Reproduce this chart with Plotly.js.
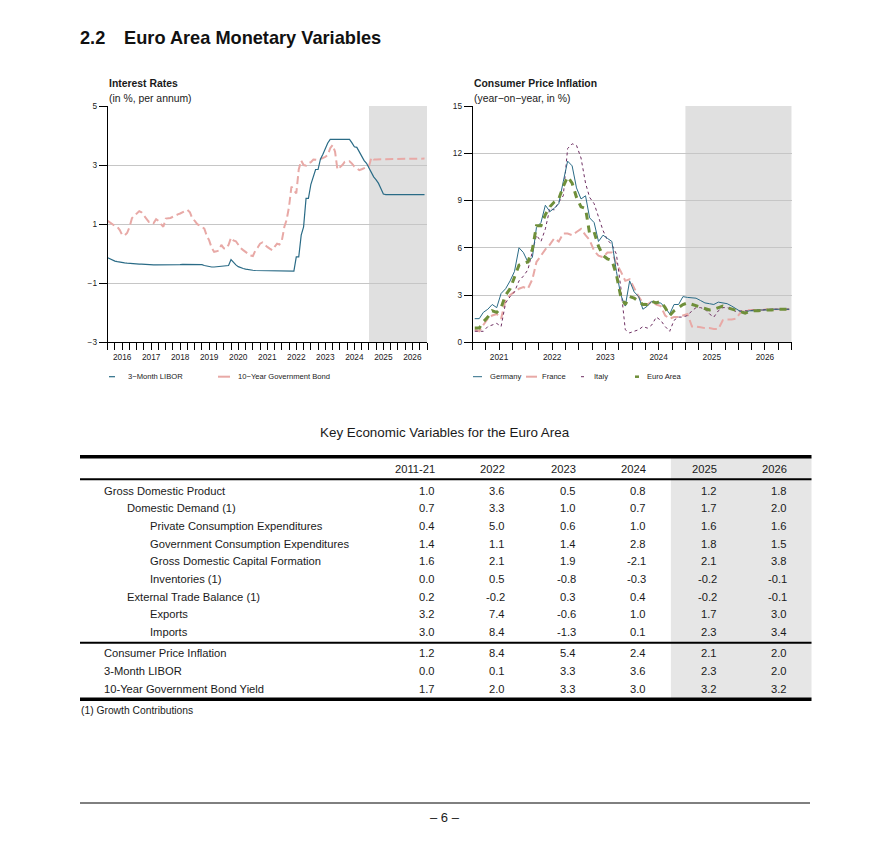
<!DOCTYPE html>
<html><head><meta charset="utf-8">
<script src="https://cdn.plot.ly/plotly-3.0.1.min.js"></script>
<style>html,body{margin:0;padding:0;background:#fff}#chart{width:888px;height:858px}</style>
</head><body><div id="chart"></div>
<script>
// ---------- Interest rates (monthly, Jan 2016 - Dec 2026) ----------
const rateStartYear = 2016;
const liborValues = [
 -0.14,-0.18,-0.22,-0.25,-0.27,-0.29,-0.30,-0.31,-0.32,-0.33,-0.33,-0.34,
 -0.34,-0.35,-0.35,-0.36,-0.37,-0.37,-0.38,-0.38,-0.38,-0.38,-0.38,-0.38,
 -0.39,-0.39,-0.39,-0.39,-0.38,-0.37,-0.37,-0.36,-0.36,-0.36,-0.35,-0.35,
 -0.35,-0.35,-0.36,-0.37,-0.40,-0.42,-0.44,-0.45,-0.45,-0.44,-0.44,-0.43,
 -0.43,-0.42,-0.40,-0.20,-0.30,-0.38,-0.44,-0.48,-0.50,-0.52,-0.54,-0.55,
 -0.56,-0.57,-0.57,-0.57,-0.58,-0.58,-0.58,-0.58,-0.59,-0.59,-0.59,-0.59,
 -0.59,-0.59,-0.59,-0.59,-0.59,-0.59,-0.11,-0.11,0.63,0.91,1.87,1.87,
 2.35,2.60,2.85,2.85,3.20,3.37,3.55,3.75,3.87,3.87,3.87,3.87,
 3.87,3.87,3.87,3.87,3.87,3.75,3.62,3.60,3.45,3.28,3.15,3.06,
 2.90,2.75,2.60,2.50,2.38,2.20,2.02,2.00,2.00,2.00,2.00,2.00,
 2.00,2.00,2.00,2.00,2.00,2.00,2.00,2.00,2.00,2.00,2.00,2.00
];
const bondValues = [
 1.11,1.05,0.97,0.94,0.91,0.80,0.63,0.62,0.70,0.90,1.20,1.30,
 1.36,1.44,1.40,1.28,1.18,1.08,1.10,1.04,1.17,1.11,1.00,0.91,
 1.19,1.19,1.21,1.25,1.30,1.33,1.36,1.40,1.42,1.48,1.40,1.19,
 1.11,1.00,0.96,0.90,0.85,0.60,0.45,0.20,0.06,0.08,0.11,0.30,
 0.18,0.17,0.30,0.54,0.45,0.42,0.30,0.19,0.12,0.06,0.00,-0.06,
 -0.08,0.11,0.20,0.34,0.38,0.29,0.23,0.17,0.12,0.23,0.34,0.31,
 0.45,0.91,1.14,1.59,2.27,2.15,2.04,2.85,3.15,3.00,2.98,3.06,
 3.10,3.19,3.17,3.17,3.20,3.23,3.28,3.34,3.57,3.68,3.45,2.85,
 2.92,3.00,3.11,3.12,3.13,3.05,2.95,2.89,2.83,2.86,2.89,2.94,
 2.97,3.26,3.19,3.19,3.20,3.20,3.20,3.20,3.20,3.20,3.21,3.21,
 3.21,3.21,3.21,3.21,3.22,3.22,3.22,3.22,3.22,3.22,3.22,3.22
];
const rateYears = ['2016','2017','2018','2019','2020','2021','2022','2023','2024','2025','2026'];
const rateTicks = [-3,-1,1,3,5];

// ---------- Consumer price inflation (monthly, Jan 2021 - Dec 2026) ----------
const cpiStartYear = 2021;
const germany = [
 1.5,1.5,1.9,2.1,2.4,2.2,3.1,3.4,3.9,4.5,6.0,5.7,
 5.1,5.4,7.3,7.6,8.7,8.3,8.5,8.8,10.2,11.5,11.2,9.8,
 9.1,9.3,7.9,7.6,6.4,6.8,6.6,6.4,4.5,3.0,2.3,3.9,
 3.2,2.9,2.1,2.3,2.6,2.5,2.5,2.2,1.8,2.4,2.4,2.9,
 2.85,2.8,2.8,2.65,2.5,2.45,2.4,2.55,2.5,2.45,2.3,2.1,
 1.95,1.9,2.0,2.0,2.05,2.05,2.05,2.1,2.1,2.1,2.1,2.1
];
const france = [
 0.8,0.7,1.1,1.5,1.7,1.8,1.5,2.7,3.0,3.2,3.4,3.5,
 3.4,4.0,5.1,5.5,5.9,6.2,6.6,6.4,6.9,6.9,6.8,7.0,
 7.2,6.8,6.5,5.8,5.5,5.4,5.7,5.7,5.0,4.5,3.9,4.0,
 3.4,2.9,2.5,2.4,2.6,2.4,2.3,1.7,1.5,1.6,1.6,1.7,
 1.8,1.0,1.0,0.95,0.9,0.9,0.85,0.85,1.4,1.45,1.45,1.5,
 1.9,2.0,2.05,2.05,2.05,2.05,2.1,2.1,2.1,2.1,2.1,2.1
];
const italy = [
 0.7,0.7,0.7,1.0,1.1,1.2,1.0,2.5,2.9,3.2,3.9,4.2,
 4.6,5.7,6.8,6.4,7.2,8.5,8.4,8.9,9.3,12.3,12.6,12.5,
 11.7,10.1,9.2,8.8,8.0,7.1,6.5,6.2,5.6,3.5,0.8,0.6,
 0.7,0.8,1.0,0.9,1.1,1.6,1.4,1.0,0.7,1.4,1.6,1.6,
 1.7,2.0,2.2,2.2,2.1,1.8,1.6,2.0,2.2,2.2,2.1,1.95,
 2.0,2.0,2.0,2.05,2.05,2.05,2.1,2.1,2.1,2.1,2.1,2.1
];
const euroArea = [
 0.9,0.9,1.3,1.6,2.0,1.9,2.2,3.0,3.4,4.1,4.9,5.0,
 5.1,5.9,7.4,7.4,8.1,8.6,8.9,9.1,9.9,10.5,10.1,9.2,
 8.6,8.5,6.9,7.0,6.1,5.5,5.3,5.2,4.3,2.9,2.4,2.9,
 2.8,2.6,2.4,2.4,2.6,2.5,2.6,2.2,1.7,2.0,2.2,2.4,
 2.5,2.4,2.3,2.2,2.1,2.05,2.1,2.2,2.3,2.2,2.1,2.0,
 1.9,1.85,1.95,2.0,2.0,2.05,2.05,2.05,2.1,2.1,2.1,2.1
];
const cpiYears = ['2021','2022','2023','2024','2025','2026'];
const cpiTicks = [0,3,6,9,12,15];
const forecastStart = '2025-01-01';

// ---------- Table ----------
const tableColumns = ['2011-21','2022','2023','2024','2025','2026'];
const forecastColumns = ['2025','2026'];
const rowLabels = ['Gross Domestic Product','Domestic Demand (1)','Private Consumption Expenditures',
 'Government Consumption Expenditures','Gross Domestic Capital Formation','Inventories (1)',
 'External Trade Balance (1)','Exports','Imports','Consumer Price Inflation','3-Month LIBOR',
 '10-Year Government Bond Yield'];
const rowLevels = [0,1,2,2,2,2,1,2,2,0,0,0];
const col2011_21 = [1.0,0.7,0.4,1.4,1.6,0.0,0.2,3.2,3.0,1.2,0.0,1.7];
const col2022 = [3.6,3.3,5.0,1.1,2.1,0.5,-0.2,7.4,8.4,8.4,0.1,2.0];
const col2023 = [0.5,1.0,0.6,1.4,1.9,-0.8,0.3,-0.6,-1.3,5.4,3.3,3.3];
const col2024 = [0.8,0.7,1.0,2.8,-2.1,-0.3,0.4,1.0,0.1,2.4,3.6,3.0];
const col2025 = [1.2,1.7,1.6,1.8,2.1,-0.2,-0.2,1.7,2.3,2.1,2.3,3.2];
const col2026 = [1.8,2.0,1.6,1.5,3.8,-0.1,-0.1,3.0,3.4,2.0,2.0,3.2];
const tableValues = [col2011_21,col2022,col2023,col2024,col2025,col2026];
const sectionBreakBefore = 9;

// ---------- helpers ----------
function monthDates(startYear, n, day){
  const out=[];
  for(let i=0;i<n;i++){
    const y=startYear+Math.floor(i/12), m=(i%12)+1;
    out.push(y+'-'+String(m).padStart(2,'0')+'-'+day);
  }
  return out;
}
const W=888, H=858;
const px=v=>v/W, py=v=>1-v/H;
const TEAL='#2a6b86', PINK='#e8a9a6', PURPLE='#6e2f62', GREEN='#6f8f3a';
const FONT='Liberation Sans, Arial, Helvetica, sans-serif';

const rateX = monthDates(rateStartYear, liborValues.length, '01');
const cpiX = monthDates(cpiStartYear, germany.length, '15');

const series = {
  libor:  {name:'3\u2212Month LIBOR', line:{color:TEAL,width:1.2}},
  bond:   {name:'10\u2212Year Government Bond', line:{color:PINK,width:2,dash:'8px,4px'}},
  germany:{name:'Germany', line:{color:TEAL,width:1}},
  france: {name:'France', line:{color:PINK,width:2,dash:'8px,4px'}},
  italy:  {name:'Italy', line:{color:PURPLE,width:1,dash:'3px,3px'}},
  euro:   {name:'Euro Area', line:{color:GREEN,width:3,dash:'7px,6px'}}
};
function tr(key, x, y, xa, ya){
  return {x:x, y:y, type:'scatter', mode:'lines', name:series[key].name, line:series[key].line,
    xaxis:xa, yaxis:ya, hoverinfo:'skip', showlegend:false};
}
const traces = [
  tr('bond', rateX, bondValues, 'x','y'),
  tr('libor', rateX, liborValues, 'x','y'),
  tr('france', cpiX, france, 'x2','y2'),
  tr('italy', cpiX, italy, 'x2','y2'),
  tr('germany', cpiX, germany, 'x2','y2'),
  tr('euro', cpiX, euroArea, 'x2','y2')
];

function xAxis(dom, years, start, end){
  return {domain:dom, type:'date', range:[start,end], tickmode:'array',
    tickvals:years.map(y=>y+'-07-01'), ticktext:years, ticks:'outside', ticklen:7, tickcolor:'#000', tickwidth:1,
    showline:true, linecolor:'#000', linewidth:1, showgrid:false, zeroline:false,
    tickfont:{size:8.3,color:'#1a1a1a'}, fixedrange:true,
    minor:{ticks:'outside', ticklen:7, tickcolor:'#000', tickwidth:1, dtick:'M3', tick0:start, showgrid:false}};
}
function yAxis(range, ticks){
  return {domain:[py(342.3),py(106)], range:range, tickmode:'array', tickvals:ticks,
    ticks:'outside', ticklen:8, tickcolor:'#000', showline:true, linecolor:'#000', linewidth:1,
    showgrid:true, gridcolor:'#c6c6c6', gridwidth:1, zeroline:false,
    tickfont:{size:8.3,color:'#1a1a1a'}, fixedrange:true};
}

const layout = {
  width:W, height:H, margin:{l:0,r:0,t:0,b:0,pad:0},
  paper_bgcolor:'#ffffff', plot_bgcolor:'rgba(0,0,0,0)',
  font:{family:FONT, color:'#1a1a1a', size:9},
  showlegend:false,
  title:{text:'<b>2.2\u00a0\u00a0\u00a0\u2009Euro Area Monetary Variables</b>', x:px(80), xanchor:'left', xref:'paper',
    y:py(38), yanchor:'middle', yref:'paper', font:{size:18.2, color:'#111'}},
  xaxis:Object.assign(xAxis([px(107.7),px(427)], rateYears, '2016-01-01','2027-01-01'),{anchor:'y'}),
  yaxis:Object.assign(yAxis([-3,5], rateTicks),{anchor:'x'}),
  xaxis2:Object.assign(xAxis([px(472.7),px(791.7)], cpiYears, '2021-01-01','2027-01-01'),{anchor:'y2'}),
  yaxis2:Object.assign(yAxis([0,15], cpiTicks),{anchor:'x2'}),
  xaxis3:{domain:[0,1], range:[0,W], visible:false, fixedrange:true, anchor:'y3'},
  yaxis3:{domain:[0,1], range:[H,0], visible:false, fixedrange:true, anchor:'x3'},
  shapes:[], annotations:[]
};

// forecast shading
layout.shapes.push({type:'rect', xref:'x', yref:'y domain', x0:forecastStart, x1:'2027-01-01', y0:0, y1:1,
  fillcolor:'#e0e0e0', line:{width:0}, layer:'below'});
layout.shapes.push({type:'rect', xref:'x2', yref:'y2 domain', x0:forecastStart, x1:'2027-01-01', y0:0, y1:1,
  fillcolor:'#e0e0e0', line:{width:0}, layer:'below'});

function ann(text, x, y, opts){
  return Object.assign({text:text, x:x, y:y, xref:'x3', yref:'y3', showarrow:false,
    xanchor:'left', yanchor:'middle', font:{size:10.4}}, opts||{});
}
// chart headings
layout.annotations.push(ann('<b>Interest Rates</b>', 106.5, 83.3));
layout.annotations.push(ann('(in %, per annum)', 106.5, 98.3));
layout.annotations.push(ann('<b>Consumer Price Inflation</b>', 471.5, 83.3));
layout.annotations.push(ann('(year\u2212on\u2212year, in %)', 471.5, 98.3));

// legends (symbol + label), styled from the series definitions
const legendY = 376.7;
const legendItems = [
  {key:'libor',   sx:109, sw:6,  tx:126},
  {key:'bond',    sx:218, sw:12, tx:236},
  {key:'germany', sx:473, sw:9,  tx:488},
  {key:'france',  sx:526, sw:11, tx:540},
  {key:'italy',   sx:581, sw:3,  tx:592},
  {key:'euro',    sx:635, sw:4,  tx:645}
];
legendItems.forEach(it=>{
  const ln = series[it.key].line;
  layout.shapes.push({type:'line', xref:'x3', yref:'y3', x0:it.sx, x1:it.sx+it.sw, y0:legendY, y1:legendY,
    line:{color:ln.color, width:Math.min(ln.width,2.5)}});
  layout.annotations.push(ann(series[it.key].name, it.tx, legendY, {font:{size:7.6}}));
});

// ---------- table ----------
const tblLeft=80, tblRight=811.5;
const colRight0=437, colStep=70.47;
const headerY=469, rowY0=490.7, rowStep=17.66, breakGap=3.8;
const lineTop=456.7, lineHead=479.3, lineMid=642.7, lineBottom=699.3;
const rowY = i => rowY0 + i*rowStep + (i>=sectionBreakBefore?breakGap:0);
const colX = c => colRight0 + c*colStep;
const TF = 11.2;

layout.annotations.push(ann('Key Economic Variables for the Euro Area', 445, 432, {xanchor:'center', font:{size:13.4}}));

const firstF = tableColumns.indexOf(forecastColumns[0]);
layout.shapes.push({type:'rect', xref:'x3', yref:'y3', x0:colX(firstF)-48, x1:tblRight,
  y0:lineTop, y1:lineBottom, fillcolor:'#e6e6e6', line:{width:0}, layer:'below'});
[[lineTop,3.5],[lineHead,2],[lineMid,2],[lineBottom,3.5]].forEach(([y,w])=>{
  layout.shapes.push({type:'line', xref:'x3', yref:'y3', x0:tblLeft, x1:tblRight, y0:y, y1:y,
    line:{color:'#000', width:w}});
});
tableColumns.forEach((c,ci)=>{
  layout.annotations.push(ann(c, colX(ci), headerY, {xanchor:'right', font:{size:TF}}));
});
rowLabels.forEach((lab,ri)=>{
  layout.annotations.push(ann(lab, 102.2 + rowLevels[ri]*22.8, rowY(ri), {font:{size:TF}}));
  tableValues.forEach((col,ci)=>{
    layout.annotations.push(ann(col[ri].toFixed(1), colX(ci), rowY(ri), {xanchor:'right', font:{size:TF}}));
  });
});
layout.annotations.push(ann('(1) Growth Contributions', 79, 710.5, {font:{size:10.3}}));

// page footer
layout.shapes.push({type:'line', xref:'x3', yref:'y3', x0:tblLeft, x1:810, y0:803, y1:803, line:{color:'#000', width:1}});
layout.annotations.push(ann('\u2013 6 \u2013', 445, 817.5, {xanchor:'center', font:{size:13}}));

Plotly.newPlot('chart', traces, layout, {staticPlot:true, displayModeBar:false});
</script></body></html>
